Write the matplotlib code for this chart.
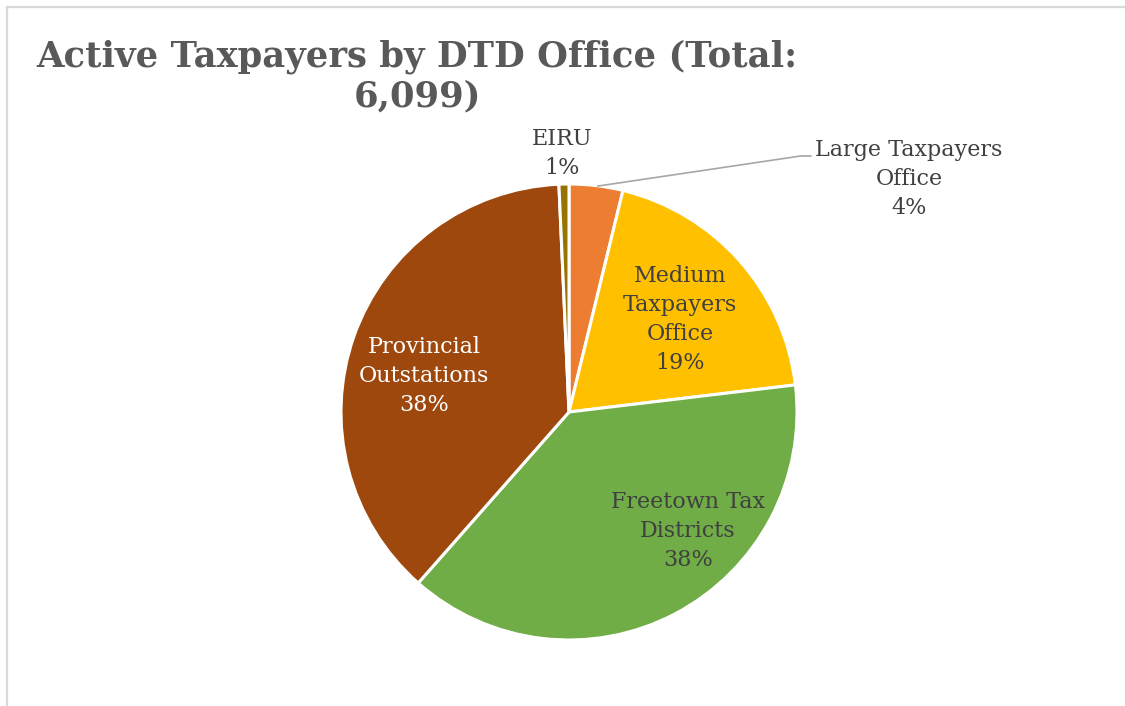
import matplotlib
matplotlib.use("Agg")
import matplotlib.pyplot as plt
from matplotlib.lines import Line2D

# ---- data -------------------------------------------------------------------
offices = ["Large Taxpayers\nOffice", "Medium\nTaxpayers\nOffice",
           "Freetown Tax\nDistricts", "Provincial\nOutstations", "EIRU"]
taxpayers = [232, 1177, 2342, 2305, 43]
colors = ["#ED7D31", "#FFC000", "#70AD47", "#9E480E", "#997300"]
label_colors = ["#404040", "#404040", "#404040", "white", "#404040"]
total = sum(taxpayers)

# label anchor points (pie-radius units)
label_pos = [(1.491, 1.022), (0.487, 0.406), (0.522, -0.522),
             (-0.636, 0.158), (-0.031, 1.132)]

W, H, DPI = 1125, 706, 100
fig = plt.figure(figsize=(W / DPI, H / DPI), dpi=DPI, facecolor="white")

# chart-area frame
fig.add_artist(Line2D([6.5 / W, 1], [1 - 6.5 / H, 1 - 6.5 / H],
                      transform=fig.transFigure, color="#d9d9d9", lw=1.6))
fig.add_artist(Line2D([6.5 / W, 6.5 / W], [0, 1 - 6.5 / H],
                      transform=fig.transFigure, color="#d9d9d9", lw=1.6))

cx, cy, r = 569, 412, 228
ax = fig.add_axes([(cx - r) / W, (H - cy - r) / H, 2 * r / W, 2 * r / H])
ax.pie(taxpayers, colors=colors, startangle=90, counterclock=False,
       wedgeprops=dict(edgecolor="white", linewidth=2.2))
ax.set_xlim(-1, 1)
ax.set_ylim(-1, 1)
ax.set_aspect("equal")
ax.axis("off")

for name, val, (lx, ly), tc in zip(offices, taxpayers, label_pos, label_colors):
    ax.text(lx, ly, f"{name}\n{val / total:.0%}", ha="center", va="center",
            color=tc, fontsize=16, family="DejaVu Serif", linespacing=1.42)

# leader line for the small Large Taxpayers slice
ax.plot([0.127, 1.017, 1.06], [0.991, 1.123, 1.123], color="#a6a6a6",
        lw=1.2, clip_on=False)

fig.text(417 / W, 1 - 76 / H, "Active Taxpayers by DTD Office (Total:\n6,099)",
         ha="center", va="center", fontsize=25.5, fontweight="bold",
         family="DejaVu Serif", color="#595959", linespacing=1.2)

fig.savefig("out.png", dpi=DPI, facecolor="white")
